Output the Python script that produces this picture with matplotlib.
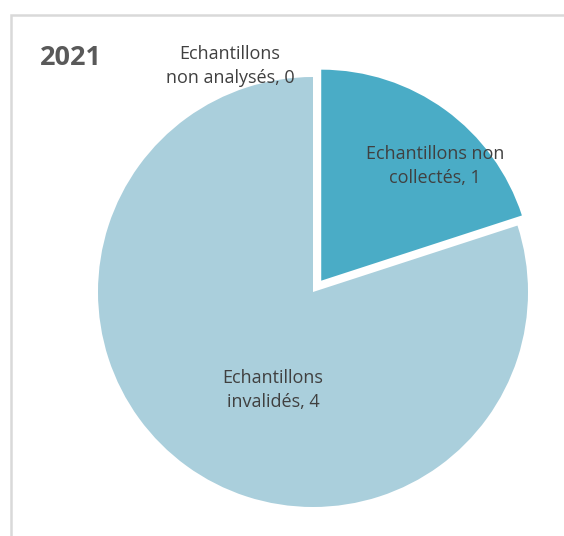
import matplotlib.pyplot as plt
from matplotlib.patches import Rectangle

# Data
categories = ["Echantillons non\ncollectés", "Echantillons\ninvalidés", "Echantillons\nnon analysés"]
values = [1, 4, 0]
colors = ["#4AACC6", "#AACFDC", "#AACFDC"]
year = "2021"

W, H = 564, 536
fig = plt.figure(figsize=(W / 100, H / 100), dpi=100)
ax = fig.add_axes([0, 0, 1, 1])

# chart frame (only left/top visible in the crop)
ax.add_patch(Rectangle((11, -20), W + 40, H - 15 + 20, fill=False,
                       edgecolor="#D9D9D9", linewidth=1.8))

# explode is in data units here (pixels)
wedges, _ = ax.pie(values, colors=colors, startangle=90, counterclock=False,
                   center=(313, H - 292), radius=215,
                   explode=[14, 0, 0], frame=True,
                   wedgeprops=dict(linewidth=0))
wedges[0].set_radius(211)  # excel shrinks the pulled-out slice a bit
ax.set_xlim(0, W)
ax.set_ylim(0, H)
ax.axis("off")

font = "Open Sans"
txt_color = "#404040"
label_pos = [(435, H - 166), (273, H - 390), (230, H - 66)]
for cat, v, (x, y) in zip(categories, values, label_pos):
    ax.text(x, y, f"{cat}, {v}", ha="center", va="center", fontsize=13,
            color=txt_color, family=font, linespacing=1.45)

ax.text(40, H - 58, year, ha="left", va="center", fontsize=19.5,
        fontweight="bold", color="#595959", family=font)

fig.savefig("out.png", dpi=100)
